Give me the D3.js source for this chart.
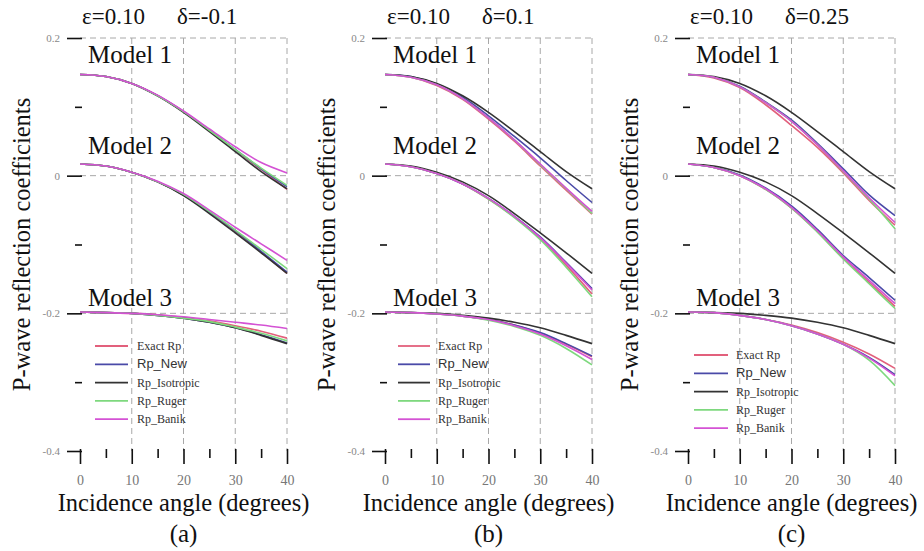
<!DOCTYPE html>
<html><head><meta charset="utf-8">
<script src="https://cdn.jsdelivr.net/npm/d3@7"></script>
<style>body{margin:0;background:#fff} svg{display:block}</style>
</head><body>
<svg id="c" width="924" height="551"></svg>
<script>
// ---------- data ----------
const angles = [0,5,10,15,20,25,30,35,40];
const xTicks = [0,10,20,30,40];
const xMinorTicks = [5,15,25,35];
const yTicks = [0.2,0,-0.2,-0.4];
const yTickLabels = ["0.2","0","-0.2","-0.4"];
const yMinorTicks = [0.1,-0.1,-0.3];
const seriesNames = ["Exact Rp","Rp_New","Rp_Isotropic","Rp_Ruger","Rp_Banik"];
const modelNames = ["Model 1","Model 2","Model 3"];
const panelLetters = ["(a)","(b)","(c)"];
const epsLabels = ["ε=0.10","ε=0.10","ε=0.10"];
const deltaLabels = ["δ=-0.1","δ=0.1","δ=0.25"];

// Isotropic curves (independent of delta) : [Model1, Model2, Model3]
const isoCurves = [
  [0.147,0.144,0.134,0.116,0.092,0.064,0.035,0.006,-0.019],
  [0.017,0.014,0.005,-0.009,-0.029,-0.055,-0.083,-0.112,-0.142],
  [-0.198,-0.199,-0.200,-0.203,-0.207,-0.213,-0.221,-0.232,-0.244]
];
// panel (a) eps=0.10 delta=-0.1
const aExact = [
  [0.147,0.144,0.134,0.116,0.093,0.066,0.037,0.009,-0.020],
  [0.017,0.014,0.005,-0.009,-0.028,-0.053,-0.081,-0.111,-0.142],
  [-0.198,-0.199,-0.200,-0.202,-0.206,-0.211,-0.218,-0.226,-0.236]
];
const aNew = [
  [0.147,0.144,0.134,0.116,0.093,0.066,0.038,0.010,-0.016],
  [0.017,0.014,0.005,-0.009,-0.028,-0.053,-0.080,-0.110,-0.140],
  [-0.198,-0.199,-0.200,-0.203,-0.207,-0.213,-0.221,-0.231,-0.243]
];
const aRuger = [
  [0.147,0.144,0.134,0.116,0.093,0.066,0.038,0.011,-0.014],
  [0.017,0.014,0.005,-0.009,-0.027,-0.052,-0.079,-0.107,-0.135],
  [-0.198,-0.199,-0.200,-0.203,-0.207,-0.212,-0.220,-0.229,-0.240]
];
const aBanik = [
  [0.147,0.144,0.134,0.117,0.094,0.068,0.042,0.019,0.004],
  [0.017,0.014,0.005,-0.008,-0.026,-0.050,-0.075,-0.099,-0.123],
  [-0.198,-0.199,-0.200,-0.202,-0.205,-0.209,-0.213,-0.217,-0.222]
];
// panel (b) eps=0.10 delta=0.1
const bExact = [
  [0.147,0.143,0.131,0.111,0.082,0.050,0.014,-0.021,-0.056],
  [0.017,0.013,0.003,-0.012,-0.034,-0.060,-0.091,-0.130,-0.172],
  [-0.198,-0.199,-0.201,-0.204,-0.209,-0.217,-0.229,-0.245,-0.263]
];
const bNew = [
  [0.147,0.144,0.133,0.114,0.087,0.057,0.026,-0.007,-0.039],
  [0.017,0.013,0.003,-0.012,-0.033,-0.059,-0.089,-0.126,-0.164],
  [-0.198,-0.199,-0.201,-0.204,-0.209,-0.217,-0.228,-0.244,-0.262]
];
const bRuger = [
  [0.147,0.143,0.132,0.112,0.084,0.052,0.016,-0.019,-0.055],
  [0.017,0.013,0.003,-0.012,-0.034,-0.061,-0.093,-0.133,-0.176],
  [-0.198,-0.199,-0.201,-0.204,-0.210,-0.219,-0.232,-0.251,-0.275]
];
const bBanik = [
  [0.147,0.143,0.132,0.112,0.084,0.052,0.017,-0.018,-0.052],
  [0.017,0.013,0.003,-0.012,-0.033,-0.059,-0.090,-0.127,-0.166],
  [-0.198,-0.199,-0.201,-0.204,-0.209,-0.218,-0.230,-0.247,-0.267]
];
// panel (c) eps=0.10 delta=0.25
const cExact = [
  [0.147,0.142,0.128,0.103,0.073,0.041,0.004,-0.036,-0.072],
  [0.017,0.012,0.000,-0.020,-0.047,-0.081,-0.120,-0.155,-0.190],
  [-0.198,-0.199,-0.203,-0.209,-0.217,-0.228,-0.242,-0.259,-0.280]
];
const cNew = [
  [0.147,0.143,0.130,0.107,0.081,0.047,0.010,-0.028,-0.058],
  [0.017,0.012,0.001,-0.018,-0.044,-0.078,-0.116,-0.148,-0.181],
  [-0.198,-0.199,-0.203,-0.209,-0.218,-0.230,-0.245,-0.264,-0.289]
];
const cRuger = [
  [0.147,0.143,0.129,0.106,0.079,0.045,0.006,-0.034,-0.077],
  [0.017,0.012,0.000,-0.020,-0.047,-0.082,-0.121,-0.157,-0.193],
  [-0.198,-0.199,-0.203,-0.209,-0.218,-0.230,-0.245,-0.268,-0.305]
];
const cBanik = [
  [0.147,0.143,0.129,0.106,0.079,0.045,0.007,-0.032,-0.068],
  [0.017,0.012,0.000,-0.019,-0.046,-0.080,-0.118,-0.152,-0.186],
  [-0.198,-0.199,-0.203,-0.209,-0.218,-0.230,-0.245,-0.265,-0.291]
];

// ---------- layout / style ----------
const panels = [
  {series:[aExact,aNew,isoCurves,aRuger,aBanik], x0:80,  legY:346, legLine:[15,48], legText:57},
  {series:[bExact,bNew,isoCurves,bRuger,bBanik], x0:385, legY:346, legLine:[13,45], legText:53},
  {series:[cExact,cNew,isoCurves,cRuger,cBanik], x0:688, legY:355, legLine:[6,40],  legText:48}
];
const colors = ["#e2607c","#4a4aa8","#333333","#7ed87e","#d452d4"];
const SERIF = "Liberation Serif", SANS = "Liberation Sans";
const legFont = [SERIF,SANS,SERIF,SERIF,SERIF];
const legSizes = [12,13,12,12,12];
const plotW = 207, yTop = 38, yBot = 451;
const modelBaselines = [63, 154, 306];

const svg = d3.select("#c");
const y = d3.scaleLinear().domain([-0.4,0.2]).range([yBot,yTop]);

function txt(sel, fam, size, fill){
  return sel.style("font-family",fam).style("font-size",size+"px").attr("fill",fill);
}

panels.forEach((p,pi)=>{
  const x = d3.scaleLinear().domain([0,40]).range([p.x0,p.x0+plotW]);
  const g = svg.append("g");

  // grid
  g.selectAll(".vg").data(xTicks.slice(1)).enter().append("line")
    .attr("x1",d=>x(d)).attr("x2",d=>x(d)).attr("y1",yTop).attr("y2",yBot)
    .attr("stroke","#a8a8a8").attr("stroke-width",1).attr("stroke-dasharray","6,4");
  g.selectAll(".hg").data(yTicks.slice(0,3)).enter().append("line")
    .attr("x1",x(0)).attr("x2",x(40)).attr("y1",d=>y(d)).attr("y2",d=>y(d))
    .attr("stroke","#a8a8a8").attr("stroke-width",1).attr("stroke-dasharray","6,4");

  // white boxes behind model labels
  modelNames.forEach((m,mi)=>{
    g.append("rect").attr("x",x(0)+7).attr("y",modelBaselines[mi]-18).attr("width",88).attr("height",20).attr("fill","#fff");
  });

  // curves
  const line = d3.line().x((d,i)=>x(angles[i])).y(d=>y(d)).curve(d3.curveCatmullRom);
  p.series.forEach((s,si)=>{
    s.forEach(curve=>{
      g.append("path").attr("d",line(curve)).attr("fill","none")
        .attr("stroke",colors[si]).attr("stroke-width",1.6);
    });
  });

  // axes
  const ax = g.append("g").attr("transform",`translate(0,${yBot})`);
  ax.call(d3.axisBottom(x).tickValues(xTicks).tickSize(13).tickFormat(d3.format("d")));
  ax.append("g").call(d3.axisBottom(x).tickValues(xMinorTicks).tickSize(7).tickFormat(""));
  ax.attr("font-family",null).attr("font-size",null);
  ax.selectAll("g").attr("font-family",null).attr("font-size",null);
  ax.selectAll("path.domain").attr("stroke","#111").attr("stroke-width",1.6);
  ax.selectAll(".tick line").attr("stroke","#111").attr("stroke-width",1.6).attr("y1",-2);
  ax.selectAll("g g path.domain").remove();
  txt(ax.selectAll(".tick text"),SERIF,14,"#777").attr("dy","1.25em");

  const ay = g.append("g").attr("transform",`translate(${x(0)},0)`);
  ay.call(d3.axisLeft(y).tickValues(yTicks).tickSize(13).tickFormat((d,i)=>yTickLabels[i]));
  ay.append("g").call(d3.axisLeft(y).tickValues(yMinorTicks).tickSize(5).tickFormat(""));
  ay.attr("font-family",null).attr("font-size",null);
  ay.selectAll("g").attr("font-family",null).attr("font-size",null);
  ay.selectAll("path.domain").attr("stroke","#111").attr("stroke-width",1.6);
  ay.selectAll("g g path.domain").remove();
  ay.selectAll(".tick line").attr("stroke","#111").attr("stroke-width",1.6).attr("x1",2);
  txt(ay.selectAll(".tick text"),SERIF,11,"#888").attr("x",-20);

  // model labels
  modelNames.forEach((m,mi)=>{
    txt(g.append("text").attr("x",x(0)+8).attr("y",modelBaselines[mi]),SERIF,25,"#111").text(m);
  });

  // legend
  seriesNames.forEach((n,si)=>{
    const ly = p.legY + si*18.3;
    g.append("line").attr("x1",p.x0+p.legLine[0]).attr("x2",p.x0+p.legLine[1])
      .attr("y1",ly).attr("y2",ly).attr("stroke",colors[si]).attr("stroke-width",1.8);
    txt(g.append("text").attr("x",p.x0+p.legText).attr("y",ly+4),legFont[si],legSizes[si],"#333").text(n);
  });

  // titles
  txt(g.append("text").attr("x",p.x0+2).attr("y",24),SERIF,23,"#111").text(epsLabels[pi]);
  txt(g.append("text").attr("x",p.x0+97).attr("y",24),SERIF,23,"#111").text(deltaLabels[pi]);
  txt(g.append("text").attr("transform",`translate(${p.x0-50},${(yTop+yBot)/2}) rotate(-90)`)
    .attr("text-anchor","middle"),SERIF,24.5,"#111").text("P-wave reflection coefficients");
  txt(g.append("text").attr("x",p.x0+plotW/2).attr("y",511).attr("text-anchor","middle"),SERIF,24.5,"#111")
    .text("Incidence angle (degrees)");
  txt(g.append("text").attr("x",p.x0+plotW/2).attr("y",542).attr("text-anchor","middle"),SERIF,25,"#111")
    .text(panelLetters[pi]);
});
</script>
</body></html>
